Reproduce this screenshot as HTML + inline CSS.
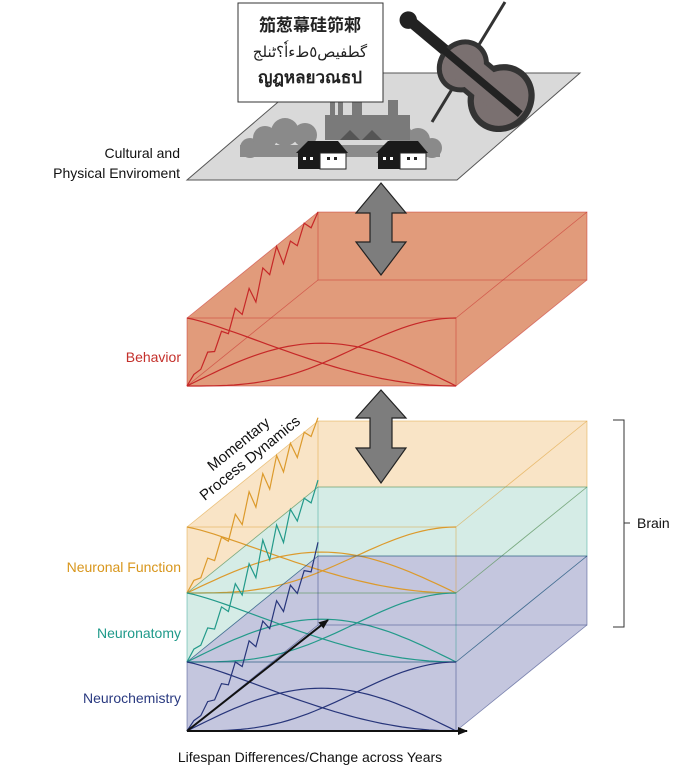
<!DOCTYPE html>
<html><head><meta charset="utf-8">
<style>
html,body{margin:0;padding:0;background:#fff;}
svg{display:block;font-family:"Liberation Sans","Noto Sans CJK SC",sans-serif;}
</style></head>
<body>
<svg id="fig" width="685" height="770" viewBox="0 0 685 770">
  <g>
    <polygon points="187,180 457,180 580,73 312,73" fill="#d9d9d9" stroke="#555" stroke-width="1"/>
    <g fill="#8a8a8a">
      <circle cx="250" cy="148" r="10"/><circle cx="265" cy="138" r="12"/><circle cx="285" cy="132" r="14"/>
      <circle cx="305" cy="135" r="12"/><circle cx="400" cy="135" r="12"/><circle cx="418" cy="140" r="12"/>
      <circle cx="432" cy="148" r="10"/><rect x="240" y="145" width="200" height="12"/>
    </g>
    <g fill="#7a7a7a">
      <rect x="330" y="95" width="5" height="40"/><rect x="338" y="95" width="5" height="40"/>
      <rect x="352" y="86" width="10" height="50"/><rect x="388" y="100" width="10" height="35"/>
      <rect x="325" y="115" width="85" height="25"/>
    </g>
    <g fill="#555"><polygon points="340,140 350,130 360,140"/><polygon points="362,140 372,130 382,140"/></g>
    <g>
      <polygon points="296,153 308,141 338,141 348,153" fill="#1a1a1a"/>
      <rect x="298" y="153" width="22" height="16" fill="#1a1a1a"/><rect x="320" y="153" width="26" height="16" fill="#fff" stroke="#222"/>
      <rect x="303" y="157" width="3" height="3" fill="#fff"/><rect x="310" y="157" width="3" height="3" fill="#fff"/>
      <rect x="327" y="157" width="3" height="3" fill="#222"/><rect x="334" y="157" width="3" height="3" fill="#222"/>
    </g>
    <g>
      <polygon points="376,153 388,141 418,141 428,153" fill="#1a1a1a"/>
      <rect x="378" y="153" width="22" height="16" fill="#1a1a1a"/><rect x="400" y="153" width="26" height="16" fill="#fff" stroke="#222"/>
      <rect x="383" y="157" width="3" height="3" fill="#fff"/><rect x="390" y="157" width="3" height="3" fill="#fff"/>
      <rect x="407" y="157" width="3" height="3" fill="#222"/><rect x="414" y="157" width="3" height="3" fill="#222"/>
    </g>
    <g>
      <line x1="505" y1="2" x2="432" y2="122" stroke="#333" stroke-width="3"/>
      <g transform="translate(482,82) rotate(-50) scale(1.25) translate(-470,-75)">
        <rect x="466" y="0" width="9" height="40" fill="#222"/>
        <circle cx="470" cy="-2" r="7" fill="#222"/>
        <ellipse cx="470" cy="55" rx="22" ry="20" fill="#333"/>
        <ellipse cx="470" cy="95" rx="28" ry="26" fill="#333"/>
        <rect x="454" y="55" width="32" height="40" fill="#333"/>
        <ellipse cx="470" cy="55" rx="18" ry="16" fill="#7a7070"/>
        <ellipse cx="470" cy="95" rx="23" ry="21" fill="#7a7070"/>
        <rect x="458" y="55" width="24" height="40" fill="#7a7070"/>
        <rect x="467" y="30" width="6" height="85" fill="#222"/>
      </g>
    </g>
  </g>
  <g>
    <rect x="238" y="3" width="145" height="99" fill="#fff" stroke="#333" stroke-width="1"/>
    <text x="310" y="31" text-anchor="middle" font-size="17" font-weight="bold" fill="#222" font-family="'Noto Sans CJK SC',sans-serif">笳葱幕硅笷郲</text>
    <text x="310" y="57" text-anchor="middle" font-size="15" fill="#222" font-family="'DejaVu Sans',sans-serif">گطفیص٥طءاٗ؟ٹنلج</text>
    <text x="310" y="83" text-anchor="middle" font-size="17" font-weight="bold" fill="#222" font-family="'DejaVu Sans',sans-serif">ญฎหลยวณธป</text>
  </g>
  <text x="180" y="158" text-anchor="end" font-size="14" fill="#111">Cultural and</text>
  <text x="180" y="178" text-anchor="end" font-size="14" fill="#111">Physical Enviroment</text>

  <g id="boxes"></g>

  <g fill="#7d7d7d" stroke="#222" stroke-width="1.2">
    <polygon points="381,183 406,213 392,213 392,242 406,242 381,275 356,242 370,242 370,213 356,213"/>
    <polygon points="381,390 406,418 392,418 392,448 406,448 381,483 356,448 370,448 370,418 356,418"/>
  </g>

  <path d="M613,420 H624 V627 H613" fill="none" stroke="#333" stroke-width="1"/>
  <path d="M624,523 L630,523" stroke="#333"/>
  <text x="637" y="528" font-size="14" fill="#111">Brain</text>

  <text x="181" y="362" text-anchor="end" font-size="14" fill="#c4302b">Behavior</text>
  <text x="181" y="572" text-anchor="end" font-size="14" fill="#d8961c">Neuronal Function</text>
  <text x="181" y="638" text-anchor="end" font-size="14" fill="#1f9a8a">Neuronatomy</text>
  <text x="181" y="703" text-anchor="end" font-size="14" fill="#2a3a80">Neurochemistry</text>
  <g transform="translate(253,462) rotate(-39)">
    <text x="0" y="-18" text-anchor="middle" font-size="15" fill="#111">Momentary</text>
    <text x="0" y="0" text-anchor="middle" font-size="15" fill="#111">Process Dynamics</text>
  </g>
  <text x="310" y="762" text-anchor="middle" font-size="14" fill="#111">Lifespan Differences/Change across Years</text>
</svg>
<script>
const layerNames = ['behavior','neuronal-function','neuroanatomy','neurochemistry'];
const layerTops = [318, 527, 593, 662];
const layerBottoms = [386, 593, 662, 731];
const fills = ['#e19b7b','#f9e4c6','#d5ece6','#c4c6de'];
const strokes = ['#c62828','#dc9a2c','#239a8a','#27357a'];
const zigBehavior = [0,0.25,0.2,0.55,0.35,0.7,0.45,0.85,0.55,0.9,0.5,0.95,0.7,1.0,0.65,0.9,0.75,1.0,0.85,1.0];
const zigNeuronal = [0,0.3,0.15,0.6,0.3,0.75,0.45,0.9,0.5,1.0,0.55,1.0,0.6,1.0,0.65,1.0,0.7,1.0,0.85,1.05];
const zigAnatomy = [0,0.3,0.2,0.55,0.3,0.7,0.4,0.85,0.45,0.9,0.5,1.0,0.55,0.95,0.6,1.0,0.75,1.0,0.85,1.1];
const zigChem = [0,0.2,0.15,0.4,0.25,0.5,0.3,0.65,0.4,0.75,0.5,0.8,0.55,0.85,0.6,0.9,0.7,0.95,0.85,1.2];
const zigs = [zigBehavior, zigNeuronal, zigAnatomy, zigChem];
const bellPeak = [0.63, 0.62, 0.62, 0.62];

const NS = 'http://www.w3.org/2000/svg';
const g = document.getElementById('boxes');
const X0 = 187, X1 = 456, DX = 131, DY = -106;
function mk(tag, attrs){const e=document.createElementNS(NS,tag);for(const k in attrs)e.setAttribute(k,attrs[k]);return e;}
function px(t){return X0 + t*(X1-X0);}
const pts = (a)=>a.map(p=>p.join(',')).join(' ');
function drawFill(i){
  const yT = layerTops[i], yB = layerBottoms[i];
  const s = mk('polygon',{points:pts([[X0,yT],[X0+DX,yT+DY],[X1+DX,yT+DY],[X1+DX,yB+DY],[X1,yB],[X0,yB]]),fill:fills[i]});
  
  
  g.appendChild(s);
}
function drawLines(i){
  const yT = layerTops[i], yB = layerBottoms[i], h = yB - yT, c = strokes[i];
  const grp = mk('g',{});
  
  
  const edge = {stroke:c,'stroke-width':0.8,'stroke-opacity':0.55,fill:'none'};
  const ln = (a,b,c2,d)=>grp.appendChild(mk('line',Object.assign({x1:a,y1:b,x2:c2,y2:d},edge)));
  grp.appendChild(mk('rect',Object.assign({x:X0,y:yT,width:X1-X0,height:h},edge)));
  grp.appendChild(mk('rect',Object.assign({x:X0+DX,y:yT+DY,width:X1-X0,height:h},edge)));
  ln(X0,yT,X0+DX,yT+DY); ln(X1,yT,X1+DX,yT+DY); ln(X1,yB,X1+DX,yB+DY); ln(X0,yB,X0+DX,yB+DY);
  let bell='',asc='',desc='';
  for(let k=0;k<=40;k++){
    const t=k/40, x=px(t);
    const s=(1-Math.cos(Math.PI*t))/2;
    bell += (k?'L':'M')+x.toFixed(1)+','+(yB - h*bellPeak[i]*Math.sin(Math.PI*t)).toFixed(1);
    asc += (k?'L':'M')+x.toFixed(1)+','+(yB - h*Math.pow(s,1.6)).toFixed(1);
    desc += (k?'L':'M')+x.toFixed(1)+','+(yT + h*Math.pow(s,0.6)).toFixed(1);
  }
  [['bell',bell],['ascending',asc],['descending',desc]].forEach(([n,d])=>{
    const p = mk('path',{d:d,fill:'none',stroke:c,'stroke-width':1.2});
    
    
    grp.appendChild(p);
  });
  const z = zigs[i]; let d='';
  z.forEach((v,k)=>{
    const t = k/(z.length-1);
    const x = X0 + t*DX, y = yB + t*DY - v*h*Math.min(1,0.3+t);
    d += (k?'L':'M')+x.toFixed(1)+','+y.toFixed(1);
  });
  const zz = mk('path',{d:d,fill:'none',stroke:c,'stroke-width':1.2});
  
  
  grp.appendChild(zz);
  g.appendChild(grp);
}
[0,1,2,3].forEach(drawFill);
[0,1,2,3].forEach(drawLines);
const defs = mk('defs',{});
const mkr = mk('marker',{id:'ah',markerWidth:10,markerHeight:8,refX:9,refY:4,orient:'auto',markerUnits:'userSpaceOnUse'});
mkr.appendChild(mk('polygon',{points:'0,0 10,4 0,8',fill:'#111'}));
defs.appendChild(mkr); g.appendChild(defs);
const a1 = mk('line',{x1:X0,y1:731,x2:328,y2:620,stroke:'#111','stroke-width':2,'marker-end':'url(#ah)'});


g.appendChild(a1);
const a2 = mk('line',{x1:X0,y1:731,x2:467,y2:731,stroke:'#111','stroke-width':2,'marker-end':'url(#ah)'});


g.appendChild(a2);
</script>
</body></html>
